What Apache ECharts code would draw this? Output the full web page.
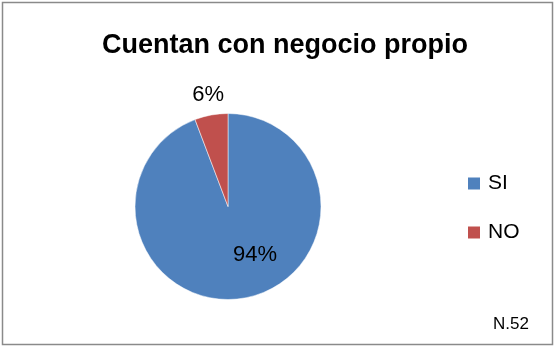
<!DOCTYPE html>
<html>
<head>
<meta charset="utf-8">
<script src="https://cdn.jsdelivr.net/npm/echarts@6/dist/echarts.min.js"></script>
<style>
  html, body { margin: 0; padding: 0; background: #fff; }
  #chart { width: 555px; height: 347px; }
</style>
</head>
<body>
<div id="chart"></div>
<script>
// datos (N = 52)
const categories = ['SI', 'NO']
const counts = [49, 3]
const colors = ['#4F81BD', '#C0504D']
// desplazamiento de etiquetas para imitar Excel
const labelShift = [[18, 0], [-11, -63]]

const myChart = echarts.init(document.getElementById('chart'))

const option = {
  animation: false,
  color: colors,
  title: {
    text: 'Cuentan con negocio propio',
    left: 280,
    top: 27,
    textAlign: 'center',
    textStyle: {
      fontFamily: 'Liberation Sans',
      fontSize: 27,
      fontWeight: 'bold',
      color: '#000'
    }
  },
  legend: {
    orient: 'vertical',
    left: 461,
    top: 168,
    itemWidth: 14,
    itemHeight: 14,
    itemGap: 28,
    icon: 'rect',
    data: categories,
    textStyle: {
      fontFamily: 'Liberation Sans',
      fontSize: 21,
      color: '#000',
      padding: [0, 0, 0, 2]
    }
  },
  graphic: [
    {
      type: 'rect',
      shape: { x: 2.5, y: 2.5, width: 550, height: 342 },
      style: { fill: 'none', stroke: '#8a8a8a', lineWidth: 1.5 }
    },
    {
      type: 'text',
      right: 26,
      top: 316,
      style: {
        text: 'N.52',
        fontFamily: 'Liberation Sans',
        fontSize: 17,
        fill: '#000'
      }
    }
  ],
  series: [
    {
      type: 'pie',
      center: [228, 206.5],
      radius: 93,
      startAngle: 90,
      clockwise: true,
      percentPrecision: 0,
      data: categories.map((c, i) => ({ name: c, value: counts[i] })),
      itemStyle: { borderColor: '#fff', borderWidth: 0.5 },
      label: {
        position: 'inside',
        formatter: '{d}%',
        fontFamily: 'Liberation Sans',
        fontSize: 22,
        color: '#000'
      },
      labelLine: { show: false },
      labelLayout: function (params) {
        const s = labelShift[params.dataIndex]
        return { dx: s[0], dy: s[1] }
      },
      emphasis: { disabled: true }
    }
  ]
}

myChart.setOption(option)
window.addEventListener('resize', function () {
  myChart.resize()
})
</script>
</body>
</html>
